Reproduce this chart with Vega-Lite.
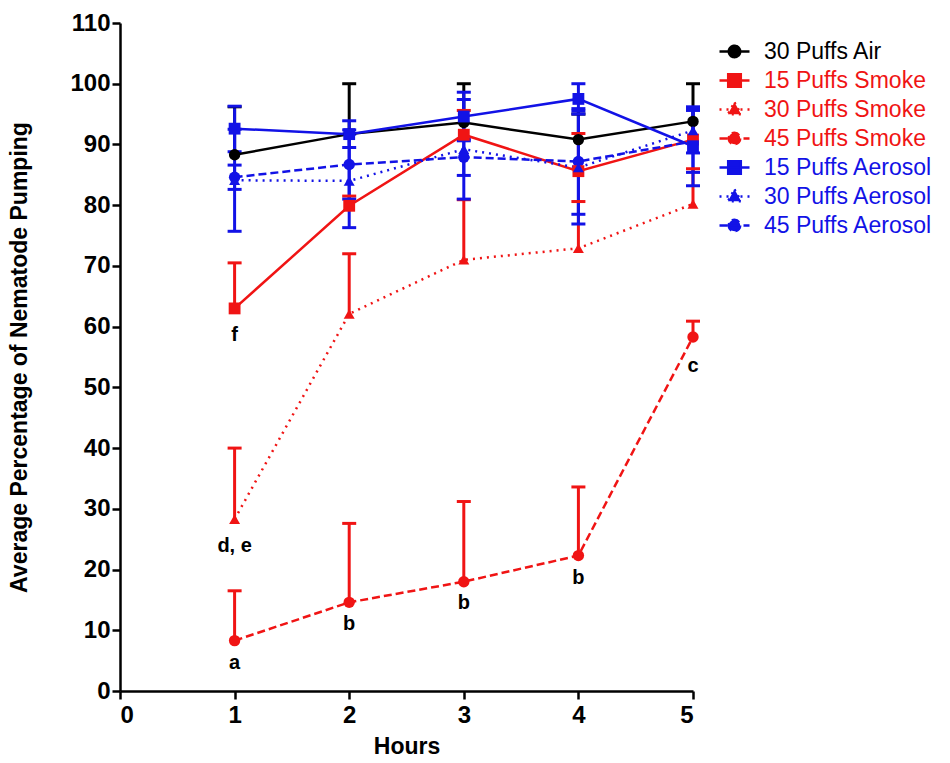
{
  "$schema": "https://vega.github.io/schema/vega-lite/v6.json",
  "width": 573,
  "height": 668,
  "autosize": {"type": "none"},
  "padding": {"left": 120, "top": 23, "right": 257, "bottom": 72},
  "background": "white",
  "config": {
    "view": {"stroke": null},
    "font": "Liberation Sans",
    "axis": {
      "domainColor": "black", "domainWidth": 2.5,
      "tickColor": "black", "tickWidth": 2.5, "tickSize": 8,
      "labelColor": "black", "labelFont": "Liberation Sans", "labelFontSize": 24, "labelFontWeight": "bold",
      "titleColor": "black", "titleFont": "Liberation Sans", "titleFontSize": 23, "titleFontWeight": "bold",
      "grid": false
    }
  },
  "datasets": {
    "pump": [
      {"series": "45 Puffs Smoke", "hour": 1, "mean": 8.3, "lo": 8.3, "hi": 16.5},
      {"series": "45 Puffs Smoke", "hour": 2, "mean": 14.6, "lo": 14.6, "hi": 27.6},
      {"series": "45 Puffs Smoke", "hour": 3, "mean": 18.0, "lo": 18.0, "hi": 31.2},
      {"series": "45 Puffs Smoke", "hour": 4, "mean": 22.3, "lo": 22.3, "hi": 33.6},
      {"series": "45 Puffs Smoke", "hour": 5, "mean": 58.3, "lo": 58.3, "hi": 60.9},
      {"series": "30 Puffs Smoke", "hour": 1, "mean": 28.3, "lo": 28.3, "hi": 40.0},
      {"series": "30 Puffs Smoke", "hour": 2, "mean": 62.1, "lo": 62.1, "hi": 72.0},
      {"series": "30 Puffs Smoke", "hour": 3, "mean": 71.0, "lo": 71.0, "hi": 80.9},
      {"series": "30 Puffs Smoke", "hour": 4, "mean": 72.9, "lo": 72.9, "hi": 80.6},
      {"series": "30 Puffs Smoke", "hour": 5, "mean": 80.2, "lo": 80.2, "hi": 86.0},
      {"series": "15 Puffs Smoke", "hour": 1, "mean": 63.0, "lo": 63.0, "hi": 70.5},
      {"series": "15 Puffs Smoke", "hour": 2, "mean": 79.9, "lo": 79.9, "hi": 81.5},
      {"series": "15 Puffs Smoke", "hour": 3, "mean": 91.6, "lo": 91.6, "hi": 95.6},
      {"series": "15 Puffs Smoke", "hour": 4, "mean": 85.6, "lo": 85.6, "hi": 91.8},
      {"series": "15 Puffs Smoke", "hour": 5, "mean": 90.8, "lo": 90.8, "hi": 95.8},
      {"series": "30 Puffs Air", "hour": 1, "mean": 88.3, "lo": 88.3, "hi": 96.2},
      {"series": "30 Puffs Air", "hour": 2, "mean": 91.7, "lo": 91.7, "hi": 100.0},
      {"series": "30 Puffs Air", "hour": 3, "mean": 93.6, "lo": 93.6, "hi": 100.0},
      {"series": "30 Puffs Air", "hour": 4, "mean": 90.8, "lo": 90.8, "hi": 95.0},
      {"series": "30 Puffs Air", "hour": 5, "mean": 93.8, "lo": 93.8, "hi": 100.0},
      {"series": "45 Puffs Aerosol", "hour": 1, "mean": 84.6, "lo": 82.6, "hi": 86.6},
      {"series": "45 Puffs Aerosol", "hour": 2, "mean": 86.7, "lo": 81.0, "hi": 92.4},
      {"series": "45 Puffs Aerosol", "hour": 3, "mean": 87.9, "lo": 84.9, "hi": 90.9},
      {"series": "45 Puffs Aerosol", "hour": 4, "mean": 87.2, "lo": 78.5, "hi": 95.9},
      {"series": "45 Puffs Aerosol", "hour": 5, "mean": 90.5, "lo": 85.4, "hi": 95.6},
      {"series": "30 Puffs Aerosol", "hour": 1, "mean": 84.1, "lo": 75.7, "hi": 92.5},
      {"series": "30 Puffs Aerosol", "hour": 2, "mean": 84.0, "lo": 76.3, "hi": 91.7},
      {"series": "30 Puffs Aerosol", "hour": 3, "mean": 89.2, "lo": 81.0, "hi": 97.4},
      {"series": "30 Puffs Aerosol", "hour": 4, "mean": 86.2, "lo": 76.9, "hi": 95.5},
      {"series": "30 Puffs Aerosol", "hour": 5, "mean": 92.3, "lo": 88.6, "hi": 96.0},
      {"series": "15 Puffs Aerosol", "hour": 1, "mean": 92.6, "lo": 88.8, "hi": 96.3},
      {"series": "15 Puffs Aerosol", "hour": 2, "mean": 91.7, "lo": 89.5, "hi": 93.9},
      {"series": "15 Puffs Aerosol", "hour": 3, "mean": 94.6, "lo": 90.6, "hi": 98.6},
      {"series": "15 Puffs Aerosol", "hour": 4, "mean": 97.5, "lo": 95.0, "hi": 100.0},
      {"series": "15 Puffs Aerosol", "hour": 5, "mean": 89.7, "lo": 83.2, "hi": 96.2}
    ],
    "letters": [
      {"hour": 1, "y": 58.6, "label": "f"},
      {"hour": 1, "y": 23.8, "label": "d, e"},
      {"hour": 1, "y": 4.6, "label": "a"},
      {"hour": 2, "y": 11.0, "label": "b"},
      {"hour": 3, "y": 14.5, "label": "b"},
      {"hour": 4, "y": 18.6, "label": "b"},
      {"hour": 5, "y": 53.6, "label": "c"}
    ]
  },
  "layer": [
    {
      "data": {"name": "pump"},
      "mark": {"type": "rule", "strokeWidth": 3},
      "encoding": {
        "x": {
          "field": "hour", "type": "quantitative", "title": "Hours",
          "scale": {"domain": [0, 5], "nice": false},
          "axis": {"values": [0, 1, 2, 3, 4, 5], "format": "d", "labelPadding": 4, "titlePadding": 8}
        },
        "y": {
          "field": "lo", "type": "quantitative", "title": "Average Percentage of Nematode Pumping",
          "scale": {"domain": [0, 110], "nice": false},
          "axis": {"values": [0, 10, 20, 30, 40, 50, 60, 70, 80, 90, 100, 110], "labelPadding": 2, "titlePadding": 38}
        },
        "y2": {"field": "hi"},
        "color": {
          "field": "series", "type": "nominal",
          "scale": {
            "domain": ["30 Puffs Air", "15 Puffs Smoke", "30 Puffs Smoke", "45 Puffs Smoke", "15 Puffs Aerosol", "30 Puffs Aerosol", "45 Puffs Aerosol"],
            "range": ["#000000", "#f01414", "#f01414", "#f01414", "#1212e6", "#1212e6", "#1212e6"]
          },
          "legend": {
            "orient": "none", "legendX": 598, "legendY": 12, "title": null,
            "symbolSize": 900, "symbolStrokeWidth": 2.5,
            "labelFontSize": 23, "labelFont": "Liberation Sans", "labelOffset": 13, "rowPadding": 0,
            "labelLimit": 300,
            "encode": {
              "symbols": {
                "update": {
                  "shape": {"signal": "datum.value == '30 Puffs Air' || indexof(datum.value, '45') == 0 ? 'M-1,0H1M0.38,0A0.38,0.38,0,1,1,-0.38,0A0.38,0.38,0,1,1,0.38,0Z' : indexof(datum.value, '15') == 0 ? 'M-1,0H1M-0.42,-0.42H0.42V0.42H-0.42Z' : 'M-1,0H1M0,-0.48L0.44,0.32L-0.44,0.32Z'"},
                  "strokeDash": {"signal": "datum.value == '30 Puffs Air' || indexof(datum.value, '15') == 0 ? [1, 0] : indexof(datum.value, '30') == 0 ? [2, 5] : [8, 4]"},
                  "fill": {"signal": "indexof(datum.value, 'Smoke') >= 0 ? '#f01414' : indexof(datum.value, 'Aerosol') >= 0 ? '#1212e6' : '#000000'"},
                  "stroke": {"signal": "indexof(datum.value, 'Smoke') >= 0 ? '#f01414' : indexof(datum.value, 'Aerosol') >= 0 ? '#1212e6' : '#000000'"},
                  "opacity": {"value": 1}
                }
              },
              "labels": {
                "update": {
                  "fill": {"signal": "indexof(datum.value, 'Smoke') >= 0 ? '#f01414' : indexof(datum.value, 'Aerosol') >= 0 ? '#1212e6' : '#000000'"}
                }
              }
            }
          }
        }
      }
    },
    {
      "data": {"name": "pump"},
      "mark": {"type": "tick", "orient": "horizontal", "thickness": 3, "size": 14, "opacity": 1},
      "encoding": {
        "x": {"field": "hour", "type": "quantitative"},
        "y": {"field": "hi", "type": "quantitative"},
        "color": {"field": "series", "type": "nominal"}
      }
    },
    {
      "data": {"name": "pump"},
      "transform": [{"filter": "datum.lo < datum.mean"}],
      "mark": {"type": "tick", "orient": "horizontal", "thickness": 3, "size": 14, "opacity": 1},
      "encoding": {
        "x": {"field": "hour", "type": "quantitative"},
        "y": {"field": "lo", "type": "quantitative"},
        "color": {"field": "series", "type": "nominal"}
      }
    },
    {
      "data": {"name": "pump"},
      "transform": [{"filter": "indexof(datum.series, '15') == 0 || datum.series == '30 Puffs Air'"}],
      "mark": {"type": "line", "strokeWidth": 2.5},
      "encoding": {
        "x": {"field": "hour", "type": "quantitative"},
        "y": {"field": "mean", "type": "quantitative"},
        "color": {"field": "series", "type": "nominal"}
      }
    },
    {
      "data": {"name": "pump"},
      "transform": [{"filter": "indexof(datum.series, '30') == 0 && datum.series != '30 Puffs Air'"}],
      "mark": {"type": "line", "strokeWidth": 2.5, "strokeDash": [2, 5]},
      "encoding": {
        "x": {"field": "hour", "type": "quantitative"},
        "y": {"field": "mean", "type": "quantitative"},
        "color": {"field": "series", "type": "nominal"}
      }
    },
    {
      "data": {"name": "pump"},
      "transform": [{"filter": "indexof(datum.series, '45') == 0"}],
      "mark": {"type": "line", "strokeWidth": 2.5, "strokeDash": [8, 4]},
      "encoding": {
        "x": {"field": "hour", "type": "quantitative"},
        "y": {"field": "mean", "type": "quantitative"},
        "color": {"field": "series", "type": "nominal"}
      }
    },
    {
      "data": {"name": "pump"},
      "transform": [{"filter": "indexof(datum.series, '45') == 0 || datum.series == '30 Puffs Air'"}],
      "mark": {"type": "point", "shape": "circle", "filled": true, "opacity": 1, "size": 130},
      "encoding": {
        "x": {"field": "hour", "type": "quantitative"},
        "y": {"field": "mean", "type": "quantitative"},
        "color": {"field": "series", "type": "nominal"}
      }
    },
    {
      "data": {"name": "pump"},
      "transform": [{"filter": "indexof(datum.series, '15') == 0"}],
      "mark": {"type": "point", "shape": "square", "filled": true, "opacity": 1, "size": 140},
      "encoding": {
        "x": {"field": "hour", "type": "quantitative"},
        "y": {"field": "mean", "type": "quantitative"},
        "color": {"field": "series", "type": "nominal"}
      }
    },
    {
      "data": {"name": "pump"},
      "transform": [{"filter": "indexof(datum.series, '30') == 0 && datum.series != '30 Puffs Air'"}],
      "mark": {"type": "point", "shape": "triangle-up", "filled": true, "opacity": 1, "size": 120},
      "encoding": {
        "x": {"field": "hour", "type": "quantitative"},
        "y": {"field": "mean", "type": "quantitative"},
        "color": {"field": "series", "type": "nominal"}
      }
    },
    {
      "data": {"name": "letters"},
      "mark": {"type": "text", "font": "Liberation Sans", "fontWeight": "bold", "fontSize": 20, "baseline": "middle", "align": "center", "color": "black"},
      "encoding": {
        "x": {"field": "hour", "type": "quantitative"},
        "y": {"field": "y", "type": "quantitative"},
        "text": {"field": "label", "type": "nominal"}
      }
    }
  ]
}
